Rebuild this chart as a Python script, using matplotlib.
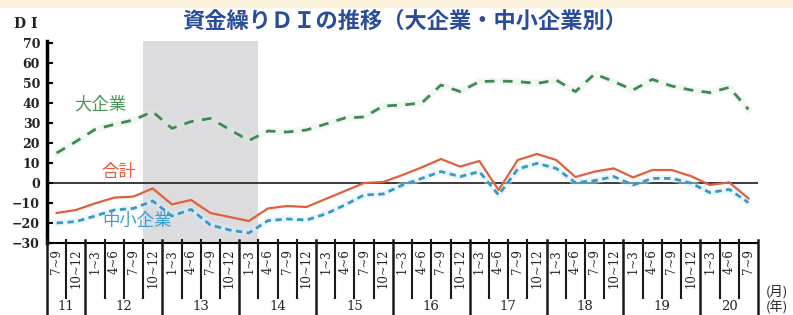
import matplotlib.pyplot as plt
from matplotlib.patches import Rectangle

# 四半期ごとの資金繰りDI（2011年7-9月 ～ 2020年7-9月）
quarters = ['7~9', '10~12'] + ['1~3', '4~6', '7~9', '10~12'] * 8 + ['1~3', '4~6', '7~9']
years = ['11', '12', '13', '14', '15', '16', '17', '18', '19', '20']
year_start = [0, 2, 6, 10, 14, 18, 22, 26, 30, 34, 37]  # 年の区切り（四半期の位置）

total = [-15, -13.5, -10.2, -7.3, -6.8, -2.7, -10.7, -8.5, -15, -17, -19, -12.7,
         -11.5, -12, -8, -4, 0, 0.5, 4, 7.8, 12, 8.2, 11, -3.5, 11.5, 14.5, 11.5,
         3, 5.7, 7.3, 2.8, 6.5, 6.5, 3.5, -1, 0.3, -7.7]
large = [15, 20.7, 26.8, 29.3, 31.5, 35.7, 27.3, 30.7, 32.3, 26.8, 21.2, 26,
         25.5, 26.5, 29.5, 32.5, 33, 38.5, 39, 40, 49, 45.7, 50.7, 51, 50.7, 49.8,
         51.5, 45.7, 54.5, 50.7, 46.5, 51.8, 48.5, 46.5, 45.2, 47.8, 36.8]
small = [-20, -19.3, -16.5, -13.5, -12.7, -9, -16.5, -13.2, -21, -23.5, -25, -18.8,
         -18, -18.5, -15.5, -11, -6, -5.5, -1, 2.3, 5.7, 3.2, 5.7, -6, 7, 9.8, 7.3,
         0.2, 1.2, 3.2, -1, 2.3, 2.3, 0, -4.8, -3.2, -9.8]
shade = (5, 11)  # 網掛け期間（2012年10-12月 ～ 2014年1-3月）

title = '資金繰りＤＩの推移（大企業・中小企業別）'
jp = ['Noto Sans CJK JP', 'DejaVu Sans']
serif = ['DejaVu Serif', 'Noto Sans CJK JP']

W, H = 793, 315
fig = plt.figure(figsize=(W / 100, H / 100), dpi=100)
fig.patch.set_facecolor('white')

# 上部の薄い帯
fig.add_artist(Rectangle((0, 1 - 7 / H), 1, 7 / H, transform=fig.transFigure,
                         color='#fcf2dc', zorder=0))

left, right = 47 / W, 758 / W
bottom = (H - 243) / H
ax = fig.add_axes([left, bottom, right - left, 202 / H])

x = [i + 0.5 for i in range(len(quarters))]

ax.axvspan(shade[0], shade[1], color='#dcdcdf', lw=0, zorder=0)
ax.axhline(0, color='#2b2b2b', lw=1.3, zorder=1)

# にじみ（薄いハロー）
ax.plot(x, large, color='#d8ede0', lw=5, alpha=0.35, zorder=2)
ax.plot(x, small, color='#d6eef8', lw=5, alpha=0.45, zorder=2)

ax.plot(x, large, color='#3f8a52', lw=2, dashes=(3.5, 3), zorder=3)
ax.plot(x, small, color='#3b98c4', lw=2, dashes=(2.3, 1.6), zorder=3)
ax.plot(x, total, color='#e0603c', lw=1.6, zorder=4)

ax.text(2.76, 39.5, '大企業', color='#4b965a', fontsize=12.5, ha='center', va='center', family=jp)
ax.text(3.75, 5.5, '合計', color='#e0603c', fontsize=12.5, ha='center', va='center', family=jp)
ax.text(4.7, -19, '中小企業', color='#3d9fd0', fontsize=12.5, ha='center', va='center', family=jp)

ax.set_xlim(0, len(quarters))
ax.set_ylim(-30, 71)
ax.set_yticks(range(-30, 71, 10))
ax.set_xticks([])
ax.tick_params(axis='y', direction='in', length=4, width=1.5, pad=5)
for lab in ax.get_yticklabels():
    lab.set_fontfamily(serif)
    lab.set_fontsize(9)
    lab.set_fontweight('bold')
    lab.set_color('#222222')
ax.spines['top'].set_visible(False)
ax.spines['right'].set_visible(False)
ax.spines['left'].set_linewidth(2.5)
ax.spines['bottom'].set_linewidth(1.5)
ax.set_facecolor('none')

fig.text(14 / W, 1 - 24 / H, 'D I', fontsize=10, fontweight='bold', family=serif,
         color='#222222', va='center')
fig.text(405 / W, 1 - 21 / H, title, ha='center', va='center', fontsize=16,
         fontweight='bold', color='#2a4d9a', family=jp)

# 横軸の目盛り欄
ax2 = fig.add_axes([left, 0, right - left, bottom])
ax2.set_xlim(0, len(quarters))
ax2.set_ylim(0, H - 243)
ax2.axis('off')
for i in range(1, len(quarters)):
    if i not in year_start:
        ax2.plot([i, i], [17, 75], color='#1a1a1a', lw=1.5, clip_on=False)
for i in year_start:
    ax2.plot([i, i], [0, 75], color='#1a1a1a', lw=1.8, clip_on=False)
for xi, q in zip(x, quarters):
    ax2.text(xi, 66, q, rotation=90, ha='center', va='top', fontsize=8.5,
             family=serif, color='#222222')
for k, y in enumerate(years):
    ax2.text((year_start[k] + year_start[k + 1]) / 2, 8, y, ha='center', va='center',
             fontsize=9.5, family=serif, color='#222222')

fig.text(777 / W, 1 - 292 / H, '(月)', ha='center', va='center', fontsize=9.5, family=jp, color='#222222')
fig.text(777 / W, 1 - 307 / H, '(年)', ha='center', va='center', fontsize=9.5, family=jp, color='#222222')

fig.savefig('out.png', dpi=100)
